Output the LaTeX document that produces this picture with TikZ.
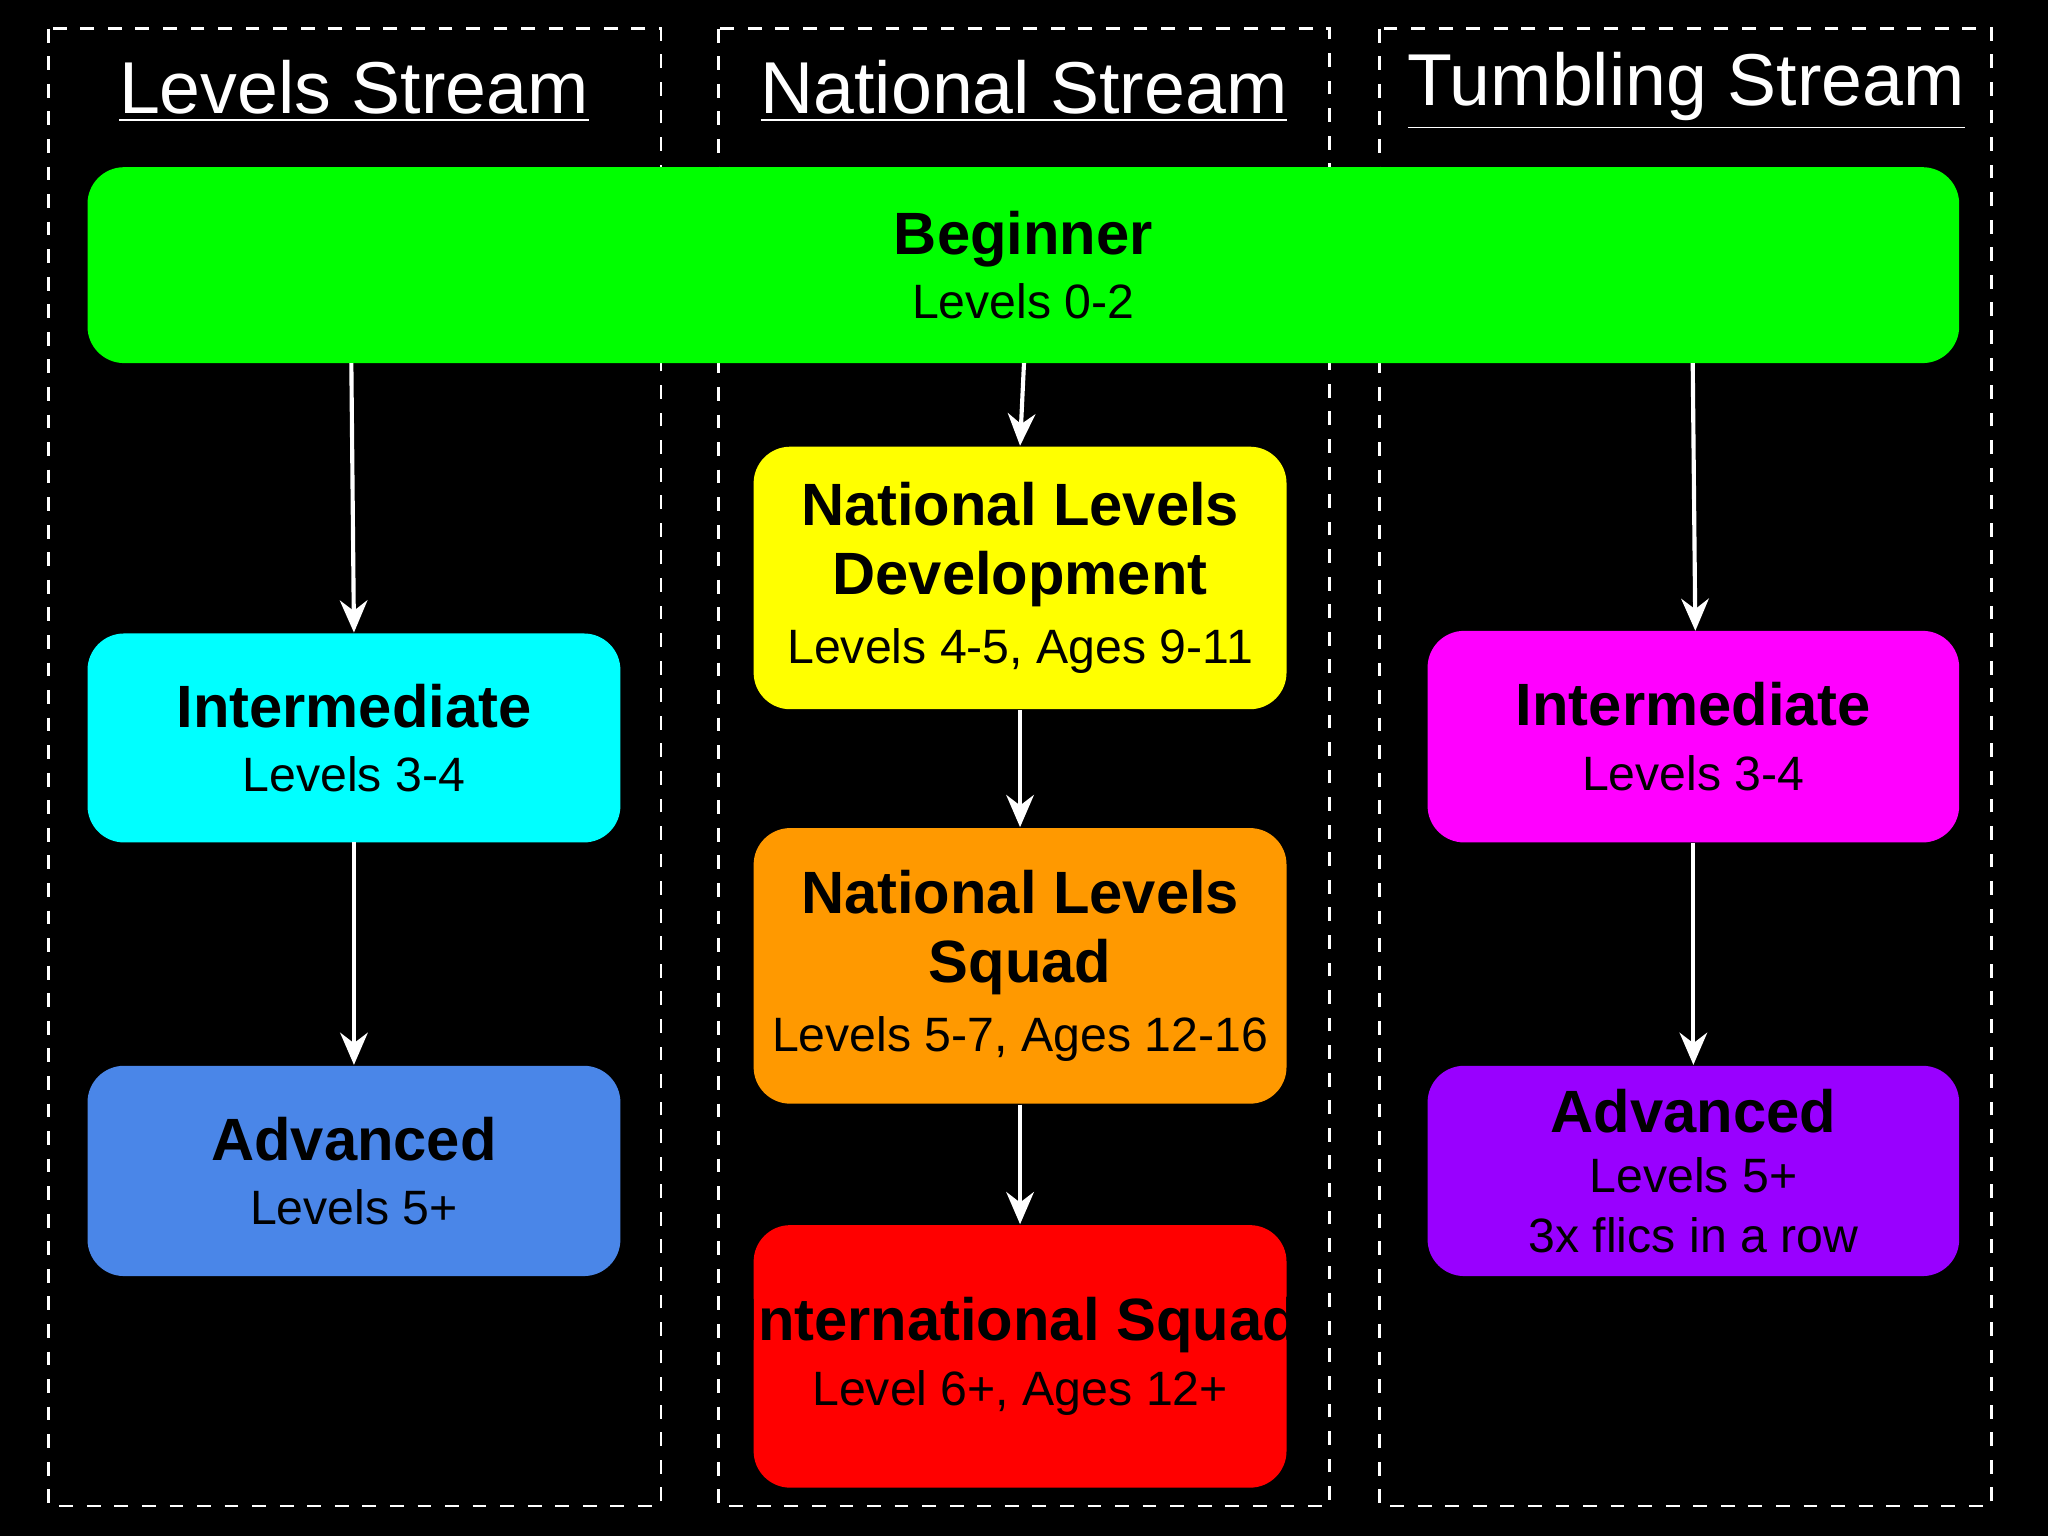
\documentclass[tikz,border=0pt]{standalone}
\usepackage{fontspec}
\setmainfont{Liberation Sans}
\usetikzlibrary{arrows.meta}
\definecolor{cgreen}{HTML}{00FF00}
\definecolor{ccyan}{HTML}{00FFFF}
\definecolor{cblue}{HTML}{4A86E8}
\definecolor{cyel}{HTML}{FFFF00}
\definecolor{corange}{HTML}{FF9900}
\definecolor{cred}{HTML}{FF0000}
\definecolor{cmag}{HTML}{FF00FF}
\definecolor{cpur}{HTML}{9900FF}
\begin{document}
\begin{tikzpicture}[x=0.01cm,y=-0.01cm,
  col/.style={draw=white,dashed,line width=0.6pt},
  ttl/.style={text=white,font=\fontsize{16}{18}\selectfont,anchor=center},
  box/.style={rounded corners=0.28cm,draw=none,inner sep=0pt,align=center,font=\fontsize{10}{14}\selectfont},
  arr/.style={draw=white,line width=0.9pt,-{Stealth[length=7pt,width=6pt]}}]
\fill[black] (0,0) rectangle (1568,1176);
\useasboundingbox (0,0) rectangle (1568,1176);
\draw[col] (37,22) rectangle (506,1153);
\draw[col] (550,22) rectangle (1018,1153);
\draw[col] (1056,22) rectangle (1525,1153);
\node[ttl] (t1) at (271,70) {\underline{Levels Stream}};
\node[ttl] (t2) at (784,70) {\underline{National Stream}};
\node[ttl] (t3) at (1291,70) {\underline{Tumbling Stream}};
\newcommand{\bx}[6]{\fill[#6,rounded corners=0.28cm] (#2,#3) rectangle (#4,#5);
  \node[box,minimum width={(#4-#2)*0.01cm},minimum height={(#5-#3)*0.01cm}] (#1) at ({(#2+#4)/2},{(#3+#5)/2}) {};}
\bx{beg}{67}{128}{1500}{278}{cgreen}
\bx{i1}{67}{485}{475}{645}{ccyan}
\bx{a1}{67}{816}{475}{977}{cblue}
\bx{nld}{577}{342}{985}{543}{cyel}
\bx{nls}{577}{634}{985}{845}{corange}
\bx{int}{577}{938}{985}{1139}{cred}
\bx{i3}{1093}{483}{1500}{645}{cmag}
\bx{a3}{1093}{816}{1500}{977}{cpur}
\newcommand{\bt}[1]{{\fontsize{13}{15}\selectfont\bfseries #1}}
\node[align=center,font=\fontsize{10.5}{14}\selectfont] at (beg) {\bt{Beginner}\\Levels 0-2};
\node[align=center,font=\fontsize{10.5}{14}\selectfont] at (i1) {\bt{Intermediate}\\Levels 3-4};
\node[align=center,font=\fontsize{10.5}{14}\selectfont] at (a1) {\bt{Advanced}\\Levels 5+};
\node[align=center,font=\fontsize{10.5}{15}\selectfont] at (nld) {\bt{National Levels}\\\bt{Development}\\Levels 4-5, Ages 9-11};
\node[align=center,font=\fontsize{10.5}{15}\selectfont] at (nls) {\bt{National Levels}\\\bt{Squad}\\Levels 5-7, Ages 12-16};
\node[align=center,font=\fontsize{10.5}{14}\selectfont] at (int) {\bt{International Squad}\\Level 6+, Ages 12+};
\node[align=center,font=\fontsize{10.5}{14}\selectfont] at (i3) {\bt{Intermediate}\\Levels 3-4};
\node[align=center,font=\fontsize{10.5}{13}\selectfont] at (a3) {\bt{Advanced}\\Levels 5+\\3x flics in a row};
\draw[arr] (269,278) -- (i1.north);
\draw[arr] (784,278) -- (nld.north);
\draw[arr] (1296,278) -- (1298,483);
\draw[arr] (i1) ++(0,80) -- (a1.north);
\draw[arr] (nld.south) -- (nls.north);
\draw[arr] (nls.south) -- (int.north);
\draw[arr] (i3.south) -- (a3.north);
\end{tikzpicture}
\end{document}
